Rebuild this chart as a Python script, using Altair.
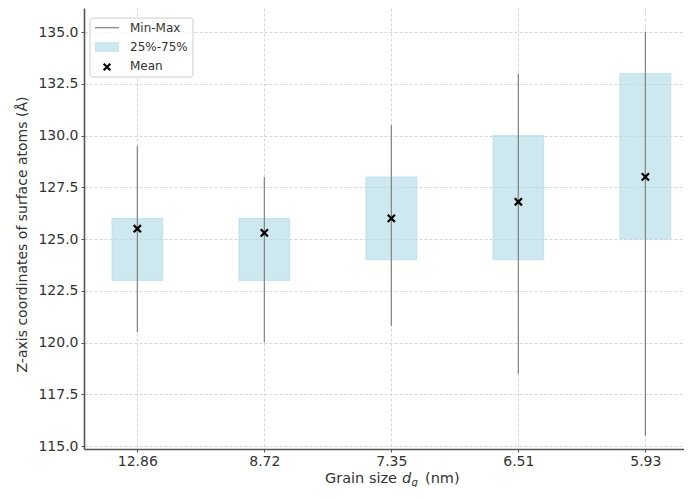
import json
import altair as alt
import pandas as pd

# ---- data ----
labels = ["12.86", "8.72", "7.35", "6.51", "5.93"]
mins = [120.5, 120.0, 120.8, 118.5, 115.5]
maxs = [129.5, 128.0, 130.5, 133.0, 135.0]
q1s = [123.0, 123.0, 124.0, 124.0, 125.0]
q3s = [126.0, 126.0, 128.0, 130.0, 133.0]
means = [125.5, 125.3, 126.0, 126.8, 128.0]
y_ticks = [115.0, 117.5, 120.0, 122.5, 125.0, 127.5, 130.0, 132.5, 135.0]

df = pd.DataFrame({
    "idx": list(range(len(labels))),
    "label": labels,
    "min": mins,
    "max": maxs,
    "q1": q1s,
    "q3": q3s,
    "mean": means,
})

FONT = "DejaVu Sans"
TXT = "#333333"
BOX = "#add8e6"
W, H = 600, 441

xscale = alt.Scale(domain=[-0.42, -0.42 + W / 127.0], nice=False, zero=False)
yscale = alt.Scale(domain=[114.86, 136.16], nice=False, zero=False)

label_expr = json.dumps(labels) + "[datum.value]"

xaxis = alt.Axis(values=list(range(len(labels))), labelExpr=label_expr, title=None,
                 labelFontSize=14, labelPadding=2, tickSize=3)
yaxis = alt.Axis(values=y_ticks, format=".1f", title="Z-axis coordinates of surface atoms (Å)",
                 labelFontSize=14, labelPadding=3, tickSize=3,
                 titleFontSize=14, titleFontWeight="normal", titleX=-62, titleY=226,
                 titleAngle=-90, titleBaseline="middle", titleAlign="center")

base = alt.Chart(df)

boxes = base.transform_calculate(
    x0="datum.idx - 0.2", x1="datum.idx + 0.2"
).mark_rect(fill=BOX, fillOpacity=0.6, stroke=BOX, strokeOpacity=0.6, strokeWidth=1).encode(
    x=alt.X("x0:Q", scale=xscale, axis=xaxis),
    x2="x1:Q",
    y=alt.Y("q1:Q", scale=yscale, axis=yaxis),
    y2="q3:Q",
)

rules = base.mark_rule(color="#808080", strokeWidth=1.2).encode(
    x=alt.X("idx:Q", scale=xscale),
    y=alt.Y("min:Q", scale=yscale),
    y2="max:Q",
)

xshape = "M-1,-1L1,1M1,-1L-1,1"
pts = base.mark_point(shape=xshape, filled=False, color="black", strokeWidth=2.2, size=52, opacity=1).encode(
    x=alt.X("idx:Q", scale=xscale),
    y=alt.Y("mean:Q", scale=yscale),
)

one = alt.Data(values=[{}])

# legend (drawn manually, upper left inside the plot)
leg_box = alt.Chart(one).mark_rect(fill="white", fillOpacity=0.8, stroke="#cccccc",
                                   strokeWidth=1, cornerRadius=3).encode(
    x=alt.value(6), x2=alt.value(109), y=alt.value(10), y2=alt.value(69))
leg_line = alt.Chart(one).mark_rule(color="#808080", strokeWidth=1.2).encode(
    x=alt.value(11), x2=alt.value(35), y=alt.value(19.7))
leg_rect = alt.Chart(one).mark_rect(fill=BOX, fillOpacity=0.6).encode(
    x=alt.value(11), x2=alt.value(35), y=alt.value(34), y2=alt.value(44))
leg_pt = alt.Chart(one).mark_point(shape=xshape, filled=False, color="black", strokeWidth=2.2,
                                   size=44, opacity=1).encode(
    x=alt.value(23), y=alt.value(59))

def txt(s, x, y, size=12, style="normal", align="left", baseline="middle"):
    return alt.Chart(one).mark_text(text=s, font=FONT, fontSize=size, fontStyle=style,
                                    color=TXT, align=align, baseline=baseline).encode(
        x=alt.value(x), y=alt.value(y))

leg_t1 = txt("Min-Max", 46, 20)
leg_t2 = txt("25%-75%", 46, 39)
leg_t3 = txt("Mean", 46, 58)

# x-axis title with italic subscript
TY = 475
xt1 = txt("Grain size", 241, TY, size=14.5, baseline="alphabetic")
xt2 = txt("d", 318, TY, size=14.5, style="italic", baseline="alphabetic")
xt3 = txt("g", 327.5, TY + 3, size=10, style="italic", baseline="alphabetic")
xt4 = txt("(nm)", 341, TY, size=14.5, baseline="alphabetic")

chart = alt.layer(
    boxes, rules, pts,
    leg_box, leg_line, leg_rect, leg_pt, leg_t1, leg_t2, leg_t3,
    xt1, xt2, xt3, xt4,
).properties(
    width=W, height=H,
    autosize=alt.AutoSizeParams(type="none"),
    padding={"left": 76, "top": 0, "right": 0, "bottom": 38},
).configure_view(
    stroke=None
).configure_axis(
    labelFont=FONT, titleFont=FONT, labelColor=TXT, titleColor=TXT,
    domainColor="#555555", domainWidth=1.6, tickColor="#555555", tickWidth=1,
    grid=True, gridColor="#cccccc", gridDash=[3, 2], gridWidth=0.8,
)

chart.save("out.html", embed_options={"renderer": "svg", "actions": False})
